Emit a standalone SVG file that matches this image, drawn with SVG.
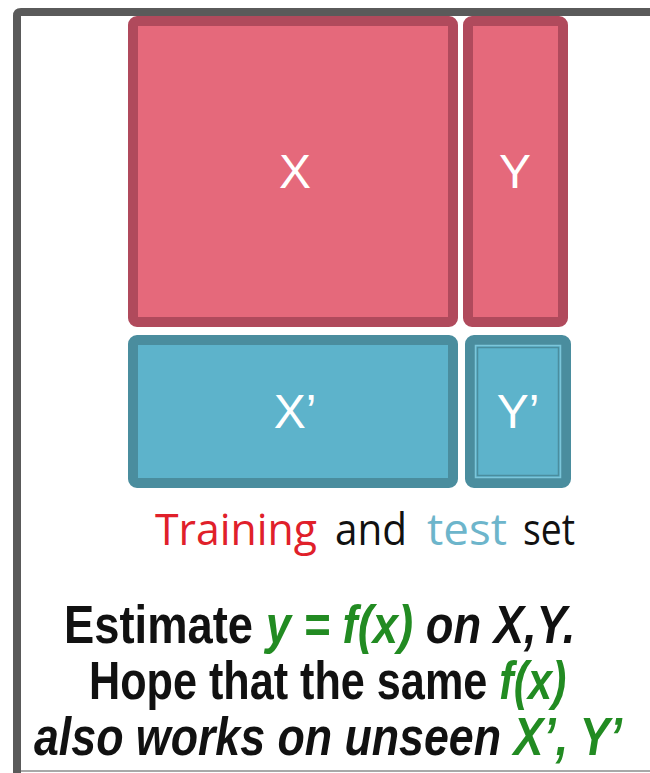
<svg xmlns="http://www.w3.org/2000/svg" width="650" height="773" viewBox="0 0 650 773">
<style>
.red{fill:#e5697b;stroke:#b04a5c;stroke-width:10}
.blue{fill:#5db3cb;stroke:#4a8d9e;stroke-width:10}
.lbl{font-family:"Liberation Sans",Arial,sans-serif;font-size:48px;fill:#ffffff;text-anchor:middle}
.cap{font-family:"Open Sans","Liberation Sans",sans-serif;font-size:44px}
.big{font-family:"Liberation Sans",Arial,sans-serif;font-size:54px;font-weight:bold;fill:#111}
.g{fill:#228b22;font-style:italic}
.i{font-style:italic}
</style>
<rect x="0" y="0" width="650" height="773" fill="#ffffff"/>
<g id="frame">
<path d="M650 12 H21 Q17 12 17 16 V773" fill="none" stroke="#5a5a5a" stroke-width="8"/>
<line x1="21" y1="771" x2="650" y2="771" stroke="#a8a8a8" stroke-width="2"/>
</g>
<g id="connectors"/>
<g id="node-X">
<rect class="red" x="133" y="21" width="320" height="301" rx="4"/>
<text class="lbl" x="295" y="188">X</text>
</g>
<g id="node-Y">
<rect class="red" x="468" y="21" width="95" height="301" rx="4"/>
<text class="lbl" x="515" y="188">Y</text>
</g>
<g id="node-X-prime">
<rect class="blue" x="133" y="340" width="320" height="143" rx="4"/>
<text class="lbl" x="295" y="428">X’</text>
</g>
<g id="node-Y-prime">
<rect class="blue" x="470" y="340" width="96" height="143" rx="4"/>
<rect x="475.5" y="345.5" width="85" height="132" fill="none" stroke="#7cc6da" stroke-width="1.5"/>
<rect x="477.5" y="347.5" width="81" height="128" fill="none" stroke="#4a8d9e" stroke-width="1.5"/>
<text class="lbl" x="518" y="428">Y’</text>
</g>
<g id="caption">
<text class="cap" x="155" y="545" fill="#e0202a" textLength="162" lengthAdjust="spacingAndGlyphs">Training</text>
<text class="cap" x="335" y="545" fill="#111" textLength="72" lengthAdjust="spacingAndGlyphs">and</text>
<text class="cap" x="427" y="545" fill="#6db5cb" textLength="80" lengthAdjust="spacingAndGlyphs">test</text>
<text class="cap" x="523" y="545" fill="#111" textLength="52" lengthAdjust="spacingAndGlyphs">set</text>
</g>
<g id="summary">
<text class="big" transform="translate(64,643) scale(0.84,1)">Estimate <tspan class="g">y = f(x)</tspan><tspan class="i"> on X,Y.</tspan></text>
<text class="big" transform="translate(89,699) scale(0.80,1)">Hope that the same <tspan class="g">f(x)</tspan></text>
<text class="big i" transform="translate(34,755) scale(0.828,1)">also works on unseen <tspan class="g">X’, Y’</tspan></text>
</g>
</svg>
